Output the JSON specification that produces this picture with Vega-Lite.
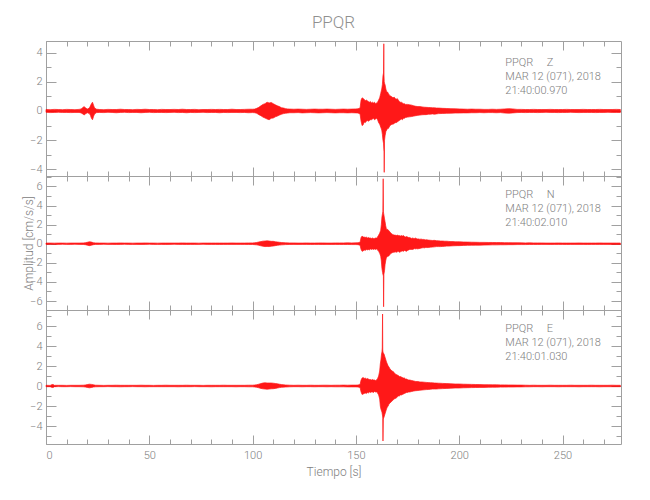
{
  "$schema": "https://vega.github.io/schema/vega-lite/v6.json",
  "padding": {"left": 22, "top": 14, "right": 5, "bottom": 5},
  "title": {"text": "PPQR", "fontSize": 17, "font": "Roboto", "fontWeight": 300, "color": "#909090", "anchor": "middle", "frame": "group", "baseline": "bottom", "offset": -9},
  "config": {
    "view": {"stroke": "#a0a0a0", "strokeWidth": 1},
    "axis": {"tickColor": "#a0a0a0", "tickWidth": 1, "labelColor": "#808080", "titleColor": "#808080", "labelFont": "Roboto", "titleFont": "Roboto", "labelFontWeight": 300, "titleFontWeight": 300, "labelFontSize": 11, "titleFontSize": 12, "domain": false, "grid": false},
    "concat": {"spacing": 0}
  },
  "datasets": {
    "Z": [
      {"t":0,"lo":-0.09,"hi":0.1},{"t":2,"lo":-0.11,"hi":0.09},{"t":4,"lo":-0.1,"hi":0.11},{"t":6,"lo":-0.09,"hi":0.1},{"t":8,"lo":-0.1,"hi":0.09},{"t":10,"lo":-0.1,"hi":0.11},{"t":12,"lo":-0.11,"hi":0.1},{"t":14,"lo":-0.1,"hi":0.09},{"t":16,"lo":-0.1,"hi":0.11},{"t":17,"lo":-0.13,"hi":0.14},{"t":18,"lo":-0.22,"hi":0.25},{"t":18.5,"lo":-0.28,"hi":0.3},{"t":19,"lo":-0.2,"hi":0.22},{"t":20,"lo":-0.12,"hi":0.13},{"t":21,"lo":-0.18,"hi":0.2},{"t":21.5,"lo":-0.3,"hi":0.35},{"t":22,"lo":-0.5,"hi":0.5},{"t":22.5,"lo":-0.6,"hi":0.6},{"t":23,"lo":-0.38,"hi":0.4},{"t":23.5,"lo":-0.2,"hi":0.2},{"t":24.5,"lo":-0.11,"hi":0.12},
      {"t":26,"lo":-0.1,"hi":0.1},{"t":28,"lo":-0.11,"hi":0.09},{"t":30,"lo":-0.09,"hi":0.11},{"t":32,"lo":-0.1,"hi":0.1},{"t":34,"lo":-0.12,"hi":0.1},{"t":36,"lo":-0.1,"hi":0.12},{"t":38,"lo":-0.09,"hi":0.1},{"t":40,"lo":-0.11,"hi":0.1},{"t":42,"lo":-0.1,"hi":0.09},{"t":44,"lo":-0.1,"hi":0.11},{"t":46,"lo":-0.12,"hi":0.1},{"t":48,"lo":-0.1,"hi":0.12},{"t":50,"lo":-0.09,"hi":0.1},{"t":52,"lo":-0.11,"hi":0.1},{"t":54,"lo":-0.1,"hi":0.09},{"t":56,"lo":-0.1,"hi":0.11},{"t":58,"lo":-0.11,"hi":0.1},{"t":60,"lo":-0.1,"hi":0.1},{"t":62,"lo":-0.09,"hi":0.11},{"t":64,"lo":-0.11,"hi":0.1},{"t":66,"lo":-0.1,"hi":0.12},{"t":68,"lo":-0.12,"hi":0.1},{"t":70,"lo":-0.1,"hi":0.1},{"t":72,"lo":-0.11,"hi":0.11},{"t":74,"lo":-0.1,"hi":0.09},{"t":76,"lo":-0.09,"hi":0.1},{"t":78,"lo":-0.11,"hi":0.1},{"t":80,"lo":-0.1,"hi":0.11},{"t":82,"lo":-0.1,"hi":0.1},{"t":84,"lo":-0.12,"hi":0.11},{"t":86,"lo":-0.1,"hi":0.1},{"t":88,"lo":-0.11,"hi":0.1},{"t":90,"lo":-0.1,"hi":0.12},{"t":92,"lo":-0.1,"hi":0.1},{"t":94,"lo":-0.11,"hi":0.1},{"t":96,"lo":-0.1,"hi":0.11},{"t":98,"lo":-0.12,"hi":0.12},{"t":100,"lo":-0.11,"hi":0.12},
      {"t":101,"lo":-0.12,"hi":0.13},{"t":102,"lo":-0.16,"hi":0.18},{"t":103,"lo":-0.25,"hi":0.25},{"t":104,"lo":-0.32,"hi":0.35},{"t":105,"lo":-0.42,"hi":0.45},{"t":106,"lo":-0.48,"hi":0.5},{"t":107,"lo":-0.55,"hi":0.6},{"t":108,"lo":-0.6,"hi":0.55},{"t":109,"lo":-0.5,"hi":0.58},{"t":110,"lo":-0.48,"hi":0.5},{"t":111,"lo":-0.4,"hi":0.42},{"t":112,"lo":-0.35,"hi":0.35},{"t":113,"lo":-0.28,"hi":0.3},{"t":114,"lo":-0.22,"hi":0.22},{"t":115,"lo":-0.18,"hi":0.2},{"t":116,"lo":-0.15,"hi":0.16},{"t":117,"lo":-0.14,"hi":0.14},{"t":118,"lo":-0.12,"hi":0.13},
      {"t":120,"lo":-0.12,"hi":0.12},{"t":122,"lo":-0.11,"hi":0.13},{"t":124,"lo":-0.13,"hi":0.12},{"t":126,"lo":-0.12,"hi":0.11},{"t":128,"lo":-0.11,"hi":0.12},{"t":130,"lo":-0.12,"hi":0.13},{"t":132,"lo":-0.13,"hi":0.12},{"t":134,"lo":-0.12,"hi":0.12},{"t":136,"lo":-0.11,"hi":0.13},{"t":138,"lo":-0.12,"hi":0.12},{"t":140,"lo":-0.13,"hi":0.11},{"t":142,"lo":-0.12,"hi":0.12},{"t":144,"lo":-0.12,"hi":0.13},{"t":146,"lo":-0.13,"hi":0.12},{"t":148,"lo":-0.12,"hi":0.13},{"t":150,"lo":-0.13,"hi":0.14},{"t":151,"lo":-0.14,"hi":0.15},{"t":152,"lo":-0.2,"hi":0.2},
      {"t":152.5,"lo":-0.7,"hi":0.75},{"t":153,"lo":-1.0,"hi":0.9},{"t":153.5,"lo":-0.95,"hi":0.85},{"t":154,"lo":-0.75,"hi":0.8},{"t":154.5,"lo":-0.8,"hi":0.7},{"t":155,"lo":-0.7,"hi":0.75},{"t":155.5,"lo":-0.65,"hi":0.7},{"t":156,"lo":-0.7,"hi":0.65},{"t":156.5,"lo":-0.65,"hi":0.6},{"t":157,"lo":-0.6,"hi":0.65},{"t":157.5,"lo":-0.6,"hi":0.55},{"t":158,"lo":-0.55,"hi":0.6},{"t":158.5,"lo":-0.5,"hi":0.55},{"t":159,"lo":-0.6,"hi":0.6},{"t":159.5,"lo":-0.55,"hi":0.5},{"t":160,"lo":-0.5,"hi":0.55},{"t":160.5,"lo":-0.6,"hi":0.6},{"t":161,"lo":-0.8,"hi":0.75},{"t":161.5,"lo":-0.9,"hi":0.9},{"t":162,"lo":-1.1,"hi":1.2},{"t":162.5,"lo":-1.3,"hi":1.5},{"t":162.8,"lo":-1.6,"hi":1.8},{"t":163.1,"lo":-2.0,"hi":2.4},{"t":163.35,"lo":-2.2,"hi":2.6},{"t":163.5,"lo":-2.6,"hi":4.6},{"t":163.6,"lo":-2.8,"hi":2.4},{"t":163.7,"lo":-4.2,"hi":2.0},{"t":163.85,"lo":-2.0,"hi":1.9},{"t":164.1,"lo":-1.7,"hi":1.8},{"t":164.5,"lo":-1.4,"hi":1.5},{"t":164.9,"lo":-1.3,"hi":1.3},{"t":165.3,"lo":-1.2,"hi":1.3},{"t":165.7,"lo":-1.2,"hi":1.2},{"t":166.1,"lo":-1.1,"hi":1.1},{"t":166.5,"lo":-1.0,"hi":1.05},{"t":167,"lo":-0.95,"hi":1.0},{"t":167.5,"lo":-0.9,"hi":0.95},{"t":168,"lo":-0.9,"hi":0.9},{"t":168.5,"lo":-0.85,"hi":0.95},{"t":169,"lo":-0.8,"hi":0.85},{"t":169.5,"lo":-0.8,"hi":0.8},{"t":170,"lo":-0.75,"hi":0.85},{"t":170.5,"lo":-0.7,"hi":0.75},{"t":171,"lo":-0.65,"hi":0.65},{"t":171.5,"lo":-0.6,"hi":0.6},{"t":172,"lo":-0.55,"hi":0.6},{"t":172.5,"lo":-0.6,"hi":0.55},{"t":173,"lo":-0.5,"hi":0.5},{"t":173.5,"lo":-0.5,"hi":0.5},{"t":174,"lo":-0.45,"hi":0.45},{"t":175,"lo":-0.42,"hi":0.45},{"t":176,"lo":-0.4,"hi":0.42},{"t":177,"lo":-0.38,"hi":0.4},{"t":178,"lo":-0.35,"hi":0.35},{"t":179,"lo":-0.32,"hi":0.32},{"t":180,"lo":-0.3,"hi":0.3},{"t":181,"lo":-0.28,"hi":0.3},{"t":182,"lo":-0.26,"hi":0.28},{"t":183,"lo":-0.25,"hi":0.26},{"t":184,"lo":-0.25,"hi":0.25},{"t":185,"lo":-0.22,"hi":0.24},{"t":186,"lo":-0.22,"hi":0.23},{"t":187,"lo":-0.2,"hi":0.22},{"t":188,"lo":-0.22,"hi":0.22},{"t":189,"lo":-0.2,"hi":0.2},{"t":190,"lo":-0.18,"hi":0.2},{"t":192,"lo":-0.17,"hi":0.18},{"t":194,"lo":-0.16,"hi":0.17},{"t":196,"lo":-0.15,"hi":0.16},{"t":198,"lo":-0.14,"hi":0.15},{"t":200,"lo":-0.14,"hi":0.14},
      {"t":202,"lo":-0.13,"hi":0.13},{"t":204,"lo":-0.13,"hi":0.12},{"t":206,"lo":-0.12,"hi":0.13},{"t":208,"lo":-0.12,"hi":0.12},{"t":210,"lo":-0.11,"hi":0.12},{"t":212,"lo":-0.12,"hi":0.11},{"t":214,"lo":-0.11,"hi":0.11},{"t":216,"lo":-0.11,"hi":0.12},{"t":218,"lo":-0.12,"hi":0.11},{"t":220,"lo":-0.11,"hi":0.12},{"t":222,"lo":-0.14,"hi":0.14},{"t":224,"lo":-0.15,"hi":0.16},{"t":226,"lo":-0.13,"hi":0.14},{"t":228,"lo":-0.11,"hi":0.11},{"t":230,"lo":-0.1,"hi":0.11},{"t":232,"lo":-0.11,"hi":0.1},{"t":234,"lo":-0.1,"hi":0.1},{"t":236,"lo":-0.1,"hi":0.11},{"t":238,"lo":-0.11,"hi":0.1},{"t":240,"lo":-0.1,"hi":0.1},{"t":242,"lo":-0.09,"hi":0.1},{"t":244,"lo":-0.1,"hi":0.11},{"t":246,"lo":-0.1,"hi":0.1},{"t":248,"lo":-0.11,"hi":0.1},{"t":250,"lo":-0.1,"hi":0.1},{"t":252,"lo":-0.1,"hi":0.11},{"t":254,"lo":-0.09,"hi":0.1},{"t":256,"lo":-0.1,"hi":0.1},{"t":258,"lo":-0.11,"hi":0.1},{"t":260,"lo":-0.1,"hi":0.11},{"t":262,"lo":-0.1,"hi":0.1},{"t":264,"lo":-0.1,"hi":0.1},{"t":266,"lo":-0.11,"hi":0.1},{"t":268,"lo":-0.1,"hi":0.11},{"t":270,"lo":-0.1,"hi":0.1},{"t":272,"lo":-0.09,"hi":0.1},{"t":274,"lo":-0.1,"hi":0.1},{"t":276,"lo":-0.1,"hi":0.11},{"t":278,"lo":-0.1,"hi":0.1}
    ],
    "N": [
      {"t":0,"lo":-0.07,"hi":0.07},{"t":2,"lo":-0.06,"hi":0.07},{"t":4,"lo":-0.07,"hi":0.06},{"t":6,"lo":-0.07,"hi":0.07},{"t":8,"lo":-0.06,"hi":0.07},{"t":10,"lo":-0.07,"hi":0.06},{"t":12,"lo":-0.07,"hi":0.07},{"t":14,"lo":-0.06,"hi":0.07},{"t":16,"lo":-0.07,"hi":0.07},{"t":18,"lo":-0.08,"hi":0.08},{"t":19,"lo":-0.1,"hi":0.1},{"t":20,"lo":-0.15,"hi":0.15},{"t":21,"lo":-0.2,"hi":0.2},{"t":22,"lo":-0.15,"hi":0.17},{"t":23,"lo":-0.1,"hi":0.1},{"t":24,"lo":-0.07,"hi":0.08},
      {"t":26,"lo":-0.07,"hi":0.07},{"t":28,"lo":-0.06,"hi":0.07},{"t":30,"lo":-0.07,"hi":0.06},{"t":32,"lo":-0.07,"hi":0.07},{"t":34,"lo":-0.08,"hi":0.07},{"t":36,"lo":-0.07,"hi":0.08},{"t":38,"lo":-0.06,"hi":0.07},{"t":40,"lo":-0.07,"hi":0.07},{"t":42,"lo":-0.07,"hi":0.06},{"t":44,"lo":-0.07,"hi":0.07},{"t":46,"lo":-0.08,"hi":0.07},{"t":48,"lo":-0.07,"hi":0.08},{"t":50,"lo":-0.06,"hi":0.07},{"t":52,"lo":-0.07,"hi":0.07},{"t":54,"lo":-0.07,"hi":0.06},{"t":56,"lo":-0.07,"hi":0.07},{"t":58,"lo":-0.08,"hi":0.07},{"t":60,"lo":-0.07,"hi":0.07},{"t":62,"lo":-0.06,"hi":0.07},{"t":64,"lo":-0.07,"hi":0.07},{"t":66,"lo":-0.07,"hi":0.08},{"t":68,"lo":-0.08,"hi":0.07},{"t":70,"lo":-0.07,"hi":0.07},{"t":72,"lo":-0.07,"hi":0.07},{"t":74,"lo":-0.07,"hi":0.06},{"t":76,"lo":-0.06,"hi":0.07},{"t":78,"lo":-0.07,"hi":0.07},{"t":80,"lo":-0.07,"hi":0.07},{"t":82,"lo":-0.07,"hi":0.07},{"t":84,"lo":-0.08,"hi":0.07},{"t":86,"lo":-0.07,"hi":0.07},{"t":88,"lo":-0.07,"hi":0.07},{"t":90,"lo":-0.07,"hi":0.08},{"t":92,"lo":-0.07,"hi":0.07},{"t":94,"lo":-0.07,"hi":0.07},{"t":96,"lo":-0.07,"hi":0.07},{"t":98,"lo":-0.08,"hi":0.08},{"t":100,"lo":-0.08,"hi":0.08},
      {"t":101,"lo":-0.1,"hi":0.1},{"t":102,"lo":-0.12,"hi":0.13},{"t":103,"lo":-0.16,"hi":0.18},{"t":104,"lo":-0.22,"hi":0.22},{"t":105,"lo":-0.26,"hi":0.27},{"t":106,"lo":-0.3,"hi":0.28},{"t":107,"lo":-0.28,"hi":0.3},{"t":108,"lo":-0.3,"hi":0.28},{"t":109,"lo":-0.26,"hi":0.25},{"t":110,"lo":-0.24,"hi":0.25},{"t":111,"lo":-0.2,"hi":0.2},{"t":112,"lo":-0.17,"hi":0.18},{"t":113,"lo":-0.14,"hi":0.15},{"t":114,"lo":-0.12,"hi":0.12},{"t":116,"lo":-0.09,"hi":0.09},{"t":118,"lo":-0.08,"hi":0.08},
      {"t":120,"lo":-0.07,"hi":0.08},{"t":122,"lo":-0.08,"hi":0.07},{"t":124,"lo":-0.07,"hi":0.07},{"t":126,"lo":-0.07,"hi":0.08},{"t":128,"lo":-0.08,"hi":0.07},{"t":130,"lo":-0.07,"hi":0.07},{"t":132,"lo":-0.07,"hi":0.08},{"t":134,"lo":-0.08,"hi":0.08},{"t":136,"lo":-0.07,"hi":0.07},{"t":138,"lo":-0.08,"hi":0.07},{"t":140,"lo":-0.07,"hi":0.08},{"t":142,"lo":-0.08,"hi":0.08},{"t":144,"lo":-0.08,"hi":0.08},{"t":146,"lo":-0.08,"hi":0.09},{"t":148,"lo":-0.09,"hi":0.08},{"t":150,"lo":-0.09,"hi":0.09},{"t":151,"lo":-0.1,"hi":0.1},{"t":152,"lo":-0.15,"hi":0.15},
      {"t":152.5,"lo":-0.6,"hi":0.65},{"t":153,"lo":-0.8,"hi":0.8},{"t":153.5,"lo":-0.75,"hi":0.7},{"t":154,"lo":-0.65,"hi":0.7},{"t":154.5,"lo":-0.7,"hi":0.65},{"t":155,"lo":-0.6,"hi":0.7},{"t":155.5,"lo":-0.65,"hi":0.6},{"t":156,"lo":-0.6,"hi":0.65},{"t":156.5,"lo":-0.65,"hi":0.6},{"t":157,"lo":-0.55,"hi":0.6},{"t":157.5,"lo":-0.6,"hi":0.55},{"t":158,"lo":-0.55,"hi":0.6},{"t":158.5,"lo":-0.6,"hi":0.55},{"t":159,"lo":-0.55,"hi":0.55},{"t":159.5,"lo":-0.6,"hi":0.6},{"t":160,"lo":-0.55,"hi":0.6},{"t":160.5,"lo":-0.65,"hi":0.7},{"t":161,"lo":-0.8,"hi":0.9},{"t":161.5,"lo":-1.0,"hi":1.1},{"t":162,"lo":-1.3,"hi":1.4},{"t":162.3,"lo":-1.8,"hi":2.0},{"t":162.6,"lo":-2.6,"hi":2.8},{"t":162.9,"lo":-3.0,"hi":3.2},{"t":163.05,"lo":-3.2,"hi":3.4},{"t":163.2,"lo":-3.3,"hi":6.8},{"t":163.3,"lo":-3.4,"hi":3.4},{"t":163.4,"lo":-6.6,"hi":3.2},{"t":163.55,"lo":-3.2,"hi":3.0},{"t":163.85,"lo":-2.8,"hi":2.6},{"t":164.1,"lo":-2.2,"hi":2.3},{"t":164.4,"lo":-1.8,"hi":1.9},{"t":164.7,"lo":-1.5,"hi":1.6},{"t":165,"lo":-1.4,"hi":1.5},{"t":165.4,"lo":-1.3,"hi":1.5},{"t":165.8,"lo":-1.3,"hi":1.4},{"t":166.2,"lo":-1.2,"hi":1.3},{"t":166.6,"lo":-1.1,"hi":1.2},{"t":167,"lo":-1.0,"hi":1.1},{"t":167.5,"lo":-0.95,"hi":1.0},{"t":168,"lo":-0.9,"hi":0.95},{"t":168.5,"lo":-0.9,"hi":0.9},{"t":169,"lo":-0.85,"hi":0.9},{"t":169.5,"lo":-0.9,"hi":0.85},{"t":170,"lo":-0.85,"hi":0.9},{"t":170.5,"lo":-0.8,"hi":0.85},{"t":171,"lo":-0.9,"hi":0.85},{"t":171.5,"lo":-0.85,"hi":0.8},{"t":172,"lo":-0.8,"hi":0.85},{"t":172.5,"lo":-0.75,"hi":0.8},{"t":173,"lo":-0.8,"hi":0.85},{"t":173.5,"lo":-0.7,"hi":0.75},{"t":174,"lo":-0.75,"hi":0.7},{"t":174.5,"lo":-0.8,"hi":0.75},{"t":175,"lo":-0.7,"hi":0.7},{"t":175.5,"lo":-0.65,"hi":0.65},{"t":176,"lo":-0.6,"hi":0.65},{"t":176.5,"lo":-0.6,"hi":0.6},{"t":177,"lo":-0.6,"hi":0.55},{"t":177.5,"lo":-0.6,"hi":0.6},{"t":178,"lo":-0.55,"hi":0.55},{"t":178.5,"lo":-0.5,"hi":0.55},{"t":179,"lo":-0.55,"hi":0.6},{"t":179.5,"lo":-0.5,"hi":0.5},{"t":180,"lo":-0.55,"hi":0.5},{"t":180.5,"lo":-0.5,"hi":0.5},{"t":181,"lo":-0.5,"hi":0.45},{"t":181.5,"lo":-0.45,"hi":0.5},{"t":182,"lo":-0.45,"hi":0.45},{"t":182.5,"lo":-0.4,"hi":0.45},{"t":183,"lo":-0.45,"hi":0.45},{"t":183.5,"lo":-0.4,"hi":0.4},{"t":184,"lo":-0.4,"hi":0.42},{"t":185,"lo":-0.4,"hi":0.38},{"t":186,"lo":-0.36,"hi":0.36},{"t":187,"lo":-0.35,"hi":0.34},{"t":188,"lo":-0.33,"hi":0.35},{"t":189,"lo":-0.3,"hi":0.32},{"t":190,"lo":-0.3,"hi":0.3},{"t":191,"lo":-0.3,"hi":0.28},{"t":192,"lo":-0.28,"hi":0.28},{"t":193,"lo":-0.27,"hi":0.26},{"t":194,"lo":-0.25,"hi":0.26},{"t":195,"lo":-0.25,"hi":0.24},{"t":196,"lo":-0.23,"hi":0.22},{"t":197,"lo":-0.22,"hi":0.22},{"t":198,"lo":-0.21,"hi":0.2},{"t":199,"lo":-0.2,"hi":0.2},{"t":200,"lo":-0.2,"hi":0.2},
      {"t":202,"lo":-0.18,"hi":0.18},{"t":204,"lo":-0.17,"hi":0.17},{"t":206,"lo":-0.16,"hi":0.16},{"t":208,"lo":-0.15,"hi":0.15},{"t":210,"lo":-0.15,"hi":0.14},{"t":212,"lo":-0.14,"hi":0.14},{"t":214,"lo":-0.13,"hi":0.13},{"t":216,"lo":-0.12,"hi":0.13},{"t":218,"lo":-0.12,"hi":0.12},{"t":220,"lo":-0.11,"hi":0.12},{"t":222,"lo":-0.11,"hi":0.11},{"t":224,"lo":-0.1,"hi":0.11},{"t":226,"lo":-0.1,"hi":0.1},{"t":228,"lo":-0.09,"hi":0.1},{"t":230,"lo":-0.09,"hi":0.09},{"t":232,"lo":-0.09,"hi":0.08},{"t":234,"lo":-0.08,"hi":0.09},{"t":236,"lo":-0.08,"hi":0.08},{"t":238,"lo":-0.08,"hi":0.08},{"t":240,"lo":-0.07,"hi":0.08},{"t":242,"lo":-0.07,"hi":0.07},{"t":244,"lo":-0.08,"hi":0.07},{"t":246,"lo":-0.07,"hi":0.07},{"t":248,"lo":-0.07,"hi":0.08},{"t":250,"lo":-0.07,"hi":0.07},{"t":252,"lo":-0.08,"hi":0.07},{"t":254,"lo":-0.07,"hi":0.07},{"t":256,"lo":-0.07,"hi":0.07},{"t":258,"lo":-0.07,"hi":0.08},{"t":260,"lo":-0.07,"hi":0.07},{"t":262,"lo":-0.08,"hi":0.07},{"t":264,"lo":-0.07,"hi":0.07},{"t":266,"lo":-0.07,"hi":0.07},{"t":268,"lo":-0.07,"hi":0.08},{"t":270,"lo":-0.07,"hi":0.07},{"t":272,"lo":-0.07,"hi":0.07},{"t":274,"lo":-0.08,"hi":0.07},{"t":276,"lo":-0.07,"hi":0.07},{"t":278,"lo":-0.07,"hi":0.07}
    ],
    "E": [
      {"t":0,"lo":-0.07,"hi":0.07},{"t":2,"lo":-0.07,"hi":0.06},{"t":3,"lo":-0.15,"hi":0.15},{"t":3.5,"lo":-0.15,"hi":0.15},{"t":4,"lo":-0.07,"hi":0.07},{"t":6,"lo":-0.06,"hi":0.07},{"t":8,"lo":-0.07,"hi":0.07},{"t":10,"lo":-0.07,"hi":0.06},{"t":12,"lo":-0.06,"hi":0.07},{"t":14,"lo":-0.07,"hi":0.07},{"t":16,"lo":-0.07,"hi":0.07},{"t":18,"lo":-0.08,"hi":0.08},{"t":19,"lo":-0.1,"hi":0.1},{"t":20,"lo":-0.14,"hi":0.14},{"t":21,"lo":-0.18,"hi":0.18},{"t":22,"lo":-0.15,"hi":0.16},{"t":23,"lo":-0.1,"hi":0.12},{"t":24,"lo":-0.08,"hi":0.08},
      {"t":26,"lo":-0.07,"hi":0.07},{"t":28,"lo":-0.07,"hi":0.06},{"t":30,"lo":-0.06,"hi":0.07},{"t":32,"lo":-0.07,"hi":0.07},{"t":34,"lo":-0.07,"hi":0.08},{"t":36,"lo":-0.08,"hi":0.07},{"t":38,"lo":-0.07,"hi":0.07},{"t":40,"lo":-0.07,"hi":0.07},{"t":42,"lo":-0.06,"hi":0.07},{"t":44,"lo":-0.07,"hi":0.07},{"t":46,"lo":-0.07,"hi":0.08},{"t":48,"lo":-0.08,"hi":0.07},{"t":50,"lo":-0.07,"hi":0.07},{"t":52,"lo":-0.07,"hi":0.06},{"t":54,"lo":-0.07,"hi":0.07},{"t":56,"lo":-0.07,"hi":0.07},{"t":58,"lo":-0.07,"hi":0.08},{"t":60,"lo":-0.07,"hi":0.07},{"t":62,"lo":-0.07,"hi":0.07},{"t":64,"lo":-0.08,"hi":0.07},{"t":66,"lo":-0.07,"hi":0.07},{"t":68,"lo":-0.07,"hi":0.08},{"t":70,"lo":-0.07,"hi":0.07},{"t":72,"lo":-0.06,"hi":0.07},{"t":74,"lo":-0.07,"hi":0.07},{"t":76,"lo":-0.07,"hi":0.06},{"t":78,"lo":-0.07,"hi":0.07},{"t":80,"lo":-0.08,"hi":0.07},{"t":82,"lo":-0.07,"hi":0.07},{"t":84,"lo":-0.07,"hi":0.07},{"t":86,"lo":-0.07,"hi":0.08},{"t":88,"lo":-0.07,"hi":0.07},{"t":90,"lo":-0.07,"hi":0.07},{"t":92,"lo":-0.08,"hi":0.07},{"t":94,"lo":-0.07,"hi":0.07},{"t":96,"lo":-0.07,"hi":0.07},{"t":98,"lo":-0.08,"hi":0.08},{"t":100,"lo":-0.08,"hi":0.08},
      {"t":101,"lo":-0.1,"hi":0.1},{"t":102,"lo":-0.13,"hi":0.13},{"t":103,"lo":-0.18,"hi":0.18},{"t":104,"lo":-0.24,"hi":0.24},{"t":105,"lo":-0.28,"hi":0.3},{"t":106,"lo":-0.3,"hi":0.32},{"t":107,"lo":-0.32,"hi":0.3},{"t":108,"lo":-0.3,"hi":0.3},{"t":109,"lo":-0.28,"hi":0.3},{"t":110,"lo":-0.27,"hi":0.28},{"t":111,"lo":-0.24,"hi":0.25},{"t":112,"lo":-0.2,"hi":0.22},{"t":113,"lo":-0.16,"hi":0.18},{"t":114,"lo":-0.13,"hi":0.14},{"t":116,"lo":-0.1,"hi":0.1},{"t":118,"lo":-0.08,"hi":0.08},
      {"t":120,"lo":-0.07,"hi":0.07},{"t":122,"lo":-0.07,"hi":0.08},{"t":124,"lo":-0.08,"hi":0.07},{"t":126,"lo":-0.07,"hi":0.07},{"t":128,"lo":-0.07,"hi":0.08},{"t":130,"lo":-0.08,"hi":0.07},{"t":132,"lo":-0.07,"hi":0.07},{"t":134,"lo":-0.07,"hi":0.08},{"t":136,"lo":-0.08,"hi":0.08},{"t":138,"lo":-0.07,"hi":0.07},{"t":140,"lo":-0.08,"hi":0.08},{"t":142,"lo":-0.08,"hi":0.08},{"t":144,"lo":-0.08,"hi":0.09},{"t":146,"lo":-0.09,"hi":0.08},{"t":148,"lo":-0.09,"hi":0.09},{"t":150,"lo":-0.09,"hi":0.09},{"t":151,"lo":-0.1,"hi":0.1},{"t":152,"lo":-0.15,"hi":0.15},
      {"t":152.5,"lo":-0.6,"hi":0.6},{"t":153,"lo":-0.85,"hi":0.8},{"t":153.5,"lo":-0.8,"hi":0.85},{"t":154,"lo":-0.75,"hi":0.75},{"t":154.5,"lo":-0.7,"hi":0.8},{"t":155,"lo":-0.75,"hi":0.7},{"t":155.5,"lo":-0.65,"hi":0.75},{"t":156,"lo":-0.7,"hi":0.7},{"t":156.5,"lo":-0.6,"hi":0.65},{"t":157,"lo":-0.65,"hi":0.65},{"t":157.5,"lo":-0.6,"hi":0.6},{"t":158,"lo":-0.6,"hi":0.65},{"t":158.5,"lo":-0.65,"hi":0.6},{"t":159,"lo":-0.55,"hi":0.6},{"t":159.5,"lo":-0.6,"hi":0.55},{"t":160,"lo":-0.6,"hi":0.6},{"t":160.5,"lo":-0.7,"hi":0.75},{"t":161,"lo":-0.9,"hi":1.0},{"t":161.5,"lo":-1.3,"hi":1.5},{"t":161.8,"lo":-2.0,"hi":2.2},{"t":162.1,"lo":-2.3,"hi":2.6},{"t":162.4,"lo":-2.5,"hi":3.2},{"t":162.6,"lo":-2.6,"hi":3.4},{"t":162.75,"lo":-2.8,"hi":3.8},{"t":162.9,"lo":-3.0,"hi":7.2},{"t":163.0,"lo":-3.2,"hi":3.6},{"t":163.1,"lo":-5.5,"hi":3.4},{"t":163.25,"lo":-3.3,"hi":3.3},{"t":163.6,"lo":-3.1,"hi":3.2},{"t":163.9,"lo":-2.9,"hi":3.0},{"t":164.2,"lo":-2.7,"hi":2.8},{"t":164.5,"lo":-2.5,"hi":2.6},{"t":164.8,"lo":-2.3,"hi":2.4},{"t":165.2,"lo":-2.1,"hi":2.2},{"t":165.6,"lo":-2.0,"hi":2.0},{"t":166,"lo":-1.8,"hi":1.9},{"t":166.5,"lo":-1.7,"hi":1.7},{"t":167,"lo":-1.6,"hi":1.6},{"t":167.5,"lo":-1.5,"hi":1.5},{"t":168,"lo":-1.4,"hi":1.45},{"t":168.5,"lo":-1.3,"hi":1.35},{"t":169,"lo":-1.25,"hi":1.2},{"t":169.5,"lo":-1.2,"hi":1.15},{"t":170,"lo":-1.1,"hi":1.1},{"t":170.5,"lo":-1.0,"hi":1.05},{"t":171,"lo":-1.0,"hi":0.95},{"t":171.5,"lo":-0.9,"hi":0.95},{"t":172,"lo":-0.9,"hi":0.9},{"t":172.5,"lo":-0.85,"hi":0.85},{"t":173,"lo":-0.8,"hi":0.8},{"t":173.5,"lo":-0.75,"hi":0.8},{"t":174,"lo":-0.7,"hi":0.7},{"t":174.5,"lo":-0.65,"hi":0.7},{"t":175,"lo":-0.65,"hi":0.65},{"t":175.5,"lo":-0.6,"hi":0.6},{"t":176,"lo":-0.6,"hi":0.6},{"t":177,"lo":-0.55,"hi":0.55},{"t":178,"lo":-0.5,"hi":0.5},{"t":179,"lo":-0.47,"hi":0.45},{"t":180,"lo":-0.45,"hi":0.45},{"t":181,"lo":-0.42,"hi":0.4},{"t":182,"lo":-0.4,"hi":0.4},{"t":183,"lo":-0.38,"hi":0.38},{"t":184,"lo":-0.36,"hi":0.36},{"t":185,"lo":-0.35,"hi":0.34},{"t":186,"lo":-0.33,"hi":0.33},{"t":187,"lo":-0.3,"hi":0.32},{"t":188,"lo":-0.3,"hi":0.3},{"t":189,"lo":-0.3,"hi":0.29},{"t":190,"lo":-0.28,"hi":0.28},{"t":192,"lo":-0.26,"hi":0.26},{"t":194,"lo":-0.24,"hi":0.24},{"t":196,"lo":-0.22,"hi":0.22},{"t":198,"lo":-0.2,"hi":0.2},{"t":200,"lo":-0.2,"hi":0.2},
      {"t":202,"lo":-0.18,"hi":0.18},{"t":204,"lo":-0.17,"hi":0.17},{"t":206,"lo":-0.16,"hi":0.16},{"t":208,"lo":-0.15,"hi":0.15},{"t":210,"lo":-0.14,"hi":0.14},{"t":212,"lo":-0.14,"hi":0.13},{"t":214,"lo":-0.13,"hi":0.13},{"t":216,"lo":-0.12,"hi":0.12},{"t":218,"lo":-0.12,"hi":0.12},{"t":220,"lo":-0.11,"hi":0.11},{"t":222,"lo":-0.11,"hi":0.11},{"t":224,"lo":-0.1,"hi":0.1},{"t":226,"lo":-0.1,"hi":0.1},{"t":228,"lo":-0.09,"hi":0.09},{"t":230,"lo":-0.09,"hi":0.09},{"t":232,"lo":-0.08,"hi":0.08},{"t":234,"lo":-0.08,"hi":0.07},{"t":236,"lo":-0.07,"hi":0.08},{"t":238,"lo":-0.07,"hi":0.07},{"t":240,"lo":-0.08,"hi":0.07},{"t":242,"lo":-0.07,"hi":0.07},{"t":244,"lo":-0.07,"hi":0.08},{"t":246,"lo":-0.07,"hi":0.07},{"t":248,"lo":-0.08,"hi":0.07},{"t":250,"lo":-0.07,"hi":0.07},{"t":252,"lo":-0.07,"hi":0.07},{"t":254,"lo":-0.07,"hi":0.08},{"t":256,"lo":-0.07,"hi":0.07},{"t":258,"lo":-0.08,"hi":0.07},{"t":260,"lo":-0.07,"hi":0.07},{"t":262,"lo":-0.07,"hi":0.07},{"t":264,"lo":-0.07,"hi":0.08},{"t":266,"lo":-0.07,"hi":0.07},{"t":268,"lo":-0.08,"hi":0.07},{"t":270,"lo":-0.07,"hi":0.07},{"t":272,"lo":-0.07,"hi":0.07},{"t":274,"lo":-0.07,"hi":0.08},{"t":276,"lo":-0.07,"hi":0.07},{"t":278,"lo":-0.07,"hi":0.07}
    ]
  },
  "bounds": "flush",
  "vconcat": [
    {
      "width": 575, "height": 135,
      "resolve": {"axis": {"x": "independent", "y": "independent"}},
      "layer": [
        {"data": {"name": "Z"}, "mark": {"type": "area", "color": "#ff0000", "stroke": "#ff0000", "strokeWidth": 0.7, "opacity": 0.9},
         "encoding": {
           "x": {"field": "t", "type": "quantitative", "scale": {"domain": [0, 278.3], "nice": false, "zero": false}, "axis": {"orient": "bottom", "values": [0,10,20,30,40,50,60,70,80,90,100,110,120,130,140,150,160,170,180,190,200,210,220,230,240,250,260,270], "tickSize": -5, "labels": false, "title": null}},
           "y": {"field": "hi", "type": "quantitative", "scale": {"domain": [-4.45, 4.79], "nice": false, "zero": false}, "axis": {"orient": "left", "values": [-4,-3,-2,-1,0,1,2,3,4], "tickSize": -5, "labels": false, "title": null}},
           "y2": {"field": "lo"}
         }},
        {"data": {"values": [{"label": "PPQR\u00a0\u00a0\u00a0\u00a0\u00a0Z\nMAR 12 (071), 2018\n21:40:00.970"}]},
         "mark": {"type": "text", "align": "left", "baseline": "alphabetic", "lineBreak": "\n", "lineHeight": 14, "fontSize": 11, "font": "Roboto", "fontWeight": 300, "color": "#808080"},
         "encoding": {
           "x": {"datum": 222.3, "type": "quantitative", "scale": {"domain": [0, 278.3], "nice": false, "zero": false}, "axis": {"orient": "bottom", "values": [0,50,100,150,200,250], "tickSize": -9, "labels": false, "title": null}},
           "y": {"datum": 3.08, "type": "quantitative", "scale": {"domain": [-4.45, 4.79], "nice": false, "zero": false}, "axis": {"orient": "left", "values": [-4,-2,0,2,4], "tickSize": -10, "labelPadding": 14, "title": null}},
           "text": {"field": "label"}
         }},
        {"data": {"values": [{"k": 1}]}, "mark": {"type": "text", "text": ""},
         "encoding": {
           "x": {"datum": 0, "type": "quantitative", "scale": {"domain": [0, 278.3], "nice": false, "zero": false}, "axis": {"orient": "top", "values": [0,10,20,30,40,50,60,70,80,90,100,110,120,130,140,150,160,170,180,190,200,210,220,230,240,250,260,270], "tickSize": -5, "labels": false, "title": null}},
           "y": {"datum": 0, "type": "quantitative", "scale": {"domain": [-4.45, 4.79], "nice": false, "zero": false}, "axis": {"orient": "right", "values": [-4,-3,-2,-1,0,1,2,3,4], "tickSize": -5, "labels": false, "title": null}}
         }},
        {"data": {"values": [{"k": 1}]}, "mark": {"type": "text", "text": ""},
         "encoding": {
           "x": {"datum": 0, "type": "quantitative", "scale": {"domain": [0, 278.3], "nice": false, "zero": false}, "axis": {"orient": "top", "values": [0,50,100,150,200,250], "tickSize": -9, "labels": false, "title": null}},
           "y": {"datum": 0, "type": "quantitative", "scale": {"domain": [-4.45, 4.79], "nice": false, "zero": false}, "axis": {"orient": "right", "values": [-4,-2,0,2,4], "tickSize": -10, "labels": false, "title": null}}
         }}
      ]
    },
    {
      "width": 575, "height": 134,
      "resolve": {"axis": {"x": "independent", "y": "independent"}},
      "layer": [
        {"data": {"name": "N"}, "mark": {"type": "area", "color": "#ff0000", "stroke": "#ff0000", "strokeWidth": 0.7, "opacity": 0.9},
         "encoding": {
           "x": {"field": "t", "type": "quantitative", "scale": {"domain": [0, 278.3], "nice": false, "zero": false}, "axis": {"orient": "bottom", "values": [0,10,20,30,40,50,60,70,80,90,100,110,120,130,140,150,160,170,180,190,200,210,220,230,240,250,260,270], "tickSize": -5, "labels": false, "title": null}},
           "y": {"field": "hi", "type": "quantitative", "scale": {"domain": [-6.94, 7.09], "nice": false, "zero": false}, "axis": {"orient": "left", "values": [-6,-5,-4,-3,-2,-1,0,1,2,3,4,5,6,7], "tickSize": -5, "labels": false, "title": null}},
           "y2": {"field": "lo"}
         }},
        {"data": {"values": [{"label": "PPQR\u00a0\u00a0\u00a0\u00a0\u00a0N\nMAR 12 (071), 2018\n21:40:02.010"}]},
         "mark": {"type": "text", "align": "left", "baseline": "alphabetic", "lineBreak": "\n", "lineHeight": 14, "fontSize": 11, "font": "Roboto", "fontWeight": 300, "color": "#808080"},
         "encoding": {
           "x": {"datum": 222.3, "type": "quantitative", "scale": {"domain": [0, 278.3], "nice": false, "zero": false}, "axis": {"orient": "bottom", "values": [0,50,100,150,200,250], "tickSize": -9, "labels": false, "title": null}},
           "y": {"datum": 4.79, "type": "quantitative", "scale": {"domain": [-6.94, 7.09], "nice": false, "zero": false}, "axis": {"orient": "left", "values": [-6,-4,-2,0,2,4,6], "tickSize": -10, "labelPadding": 14, "title": "Amplitud [cm/s/s]", "titlePadding": -6}},
           "text": {"field": "label"}
         }},
        {"data": {"values": [{"k": 1}]}, "mark": {"type": "text", "text": ""},
         "encoding": {
           "x": {"datum": 0, "type": "quantitative", "scale": {"domain": [0, 278.3], "nice": false, "zero": false}, "axis": {"orient": "top", "values": [0,10,20,30,40,50,60,70,80,90,100,110,120,130,140,150,160,170,180,190,200,210,220,230,240,250,260,270], "tickSize": -5, "labels": false, "title": null}},
           "y": {"datum": 0, "type": "quantitative", "scale": {"domain": [-6.94, 7.09], "nice": false, "zero": false}, "axis": {"orient": "right", "values": [-6,-5,-4,-3,-2,-1,0,1,2,3,4,5,6,7], "tickSize": -5, "labels": false, "title": null}}
         }},
        {"data": {"values": [{"k": 1}]}, "mark": {"type": "text", "text": ""},
         "encoding": {
           "x": {"datum": 0, "type": "quantitative", "scale": {"domain": [0, 278.3], "nice": false, "zero": false}, "axis": {"orient": "top", "values": [0,50,100,150,200,250], "tickSize": -9, "labels": false, "title": null}},
           "y": {"datum": 0, "type": "quantitative", "scale": {"domain": [-6.94, 7.09], "nice": false, "zero": false}, "axis": {"orient": "right", "values": [-6,-4,-2,0,2,4,6], "tickSize": -10, "labels": false, "title": null}}
         }}
      ]
    },
    {
      "width": 575, "height": 134,
      "resolve": {"axis": {"x": "independent", "y": "independent"}},
      "layer": [
        {"data": {"name": "E"}, "mark": {"type": "area", "color": "#ff0000", "stroke": "#ff0000", "strokeWidth": 0.7, "opacity": 0.9},
         "encoding": {
           "x": {"field": "t", "type": "quantitative", "scale": {"domain": [0, 278.3], "nice": false, "zero": false}, "axis": {"orient": "bottom", "values": [0,10,20,30,40,50,60,70,80,90,100,110,120,130,140,150,160,170,180,190,200,210,220,230,240,250,260,270], "tickSize": -5, "labels": false, "title": null}},
           "y": {"field": "hi", "type": "quantitative", "scale": {"domain": [-5.8, 7.6], "nice": false, "zero": false}, "axis": {"orient": "left", "values": [-5,-4,-3,-2,-1,0,1,2,3,4,5,6,7], "tickSize": -5, "labels": false, "title": null}},
           "y2": {"field": "lo"}
         }},
        {"data": {"values": [{"label": "PPQR\u00a0\u00a0\u00a0\u00a0\u00a0E\nMAR 12 (071), 2018\n21:40:01.030"}]},
         "mark": {"type": "text", "align": "left", "baseline": "alphabetic", "lineBreak": "\n", "lineHeight": 14, "fontSize": 11, "font": "Roboto", "fontWeight": 300, "color": "#808080"},
         "encoding": {
           "x": {"datum": 222.3, "type": "quantitative", "scale": {"domain": [0, 278.3], "nice": false, "zero": false}, "axis": {"orient": "bottom", "values": [0,50,100,150,200,250], "tickSize": -9, "labelPadding": 14, "title": "Tiempo [s]", "titlePadding": 6}},
           "y": {"datum": 5.4, "type": "quantitative", "scale": {"domain": [-5.8, 7.6], "nice": false, "zero": false}, "axis": {"orient": "left", "values": [-4,-2,0,2,4,6], "tickSize": -10, "labelPadding": 14, "title": null}},
           "text": {"field": "label"}
         }},
        {"data": {"values": [{"k": 1}]}, "mark": {"type": "text", "text": ""},
         "encoding": {
           "x": {"datum": 0, "type": "quantitative", "scale": {"domain": [0, 278.3], "nice": false, "zero": false}, "axis": {"orient": "top", "values": [0,10,20,30,40,50,60,70,80,90,100,110,120,130,140,150,160,170,180,190,200,210,220,230,240,250,260,270], "tickSize": -5, "labels": false, "title": null}},
           "y": {"datum": 0, "type": "quantitative", "scale": {"domain": [-5.8, 7.6], "nice": false, "zero": false}, "axis": {"orient": "right", "values": [-5,-4,-3,-2,-1,0,1,2,3,4,5,6,7], "tickSize": -5, "labels": false, "title": null}}
         }},
        {"data": {"values": [{"k": 1}]}, "mark": {"type": "text", "text": ""},
         "encoding": {
           "x": {"datum": 0, "type": "quantitative", "scale": {"domain": [0, 278.3], "nice": false, "zero": false}, "axis": {"orient": "top", "values": [0,50,100,150,200,250], "tickSize": -9, "labels": false, "title": null}},
           "y": {"datum": 0, "type": "quantitative", "scale": {"domain": [-5.8, 7.6], "nice": false, "zero": false}, "axis": {"orient": "right", "values": [-4,-2,0,2,4,6], "tickSize": -10, "labels": false, "title": null}}
         }}
      ]
    }
  ]
}
